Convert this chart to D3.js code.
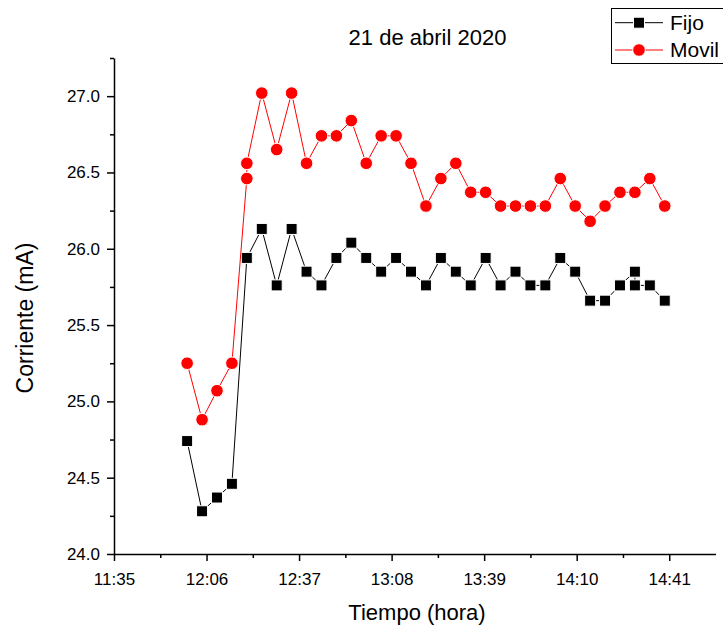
<!DOCTYPE html>
<html>
<head>
<meta charset="utf-8">
<script src="https://cdn.jsdelivr.net/npm/d3@7"></script>
<style>
  body { margin: 0; background: #fff; }
  svg { font-family: "Liberation Sans", Arial, sans-serif; }
</style>
</head>
<body>
<script>
// measurement times (two readings share 12:20 and 14:30)
const times = ["12:00","12:05","12:10","12:15","12:20","12:20","12:25","12:30","12:35","12:40",
  "12:45","12:50","12:55","13:00","13:05","13:10","13:15","13:20","13:25","13:30",
  "13:35","13:40","13:45","13:50","13:55","14:00","14:05","14:10","14:15","14:20",
  "14:25","14:30","14:30","14:35","14:40"];
const fijo = [24.74,24.28,24.37,24.46,25.94,25.94,26.13,25.76,26.13,25.85,
  25.76,25.94,26.04,25.94,25.85,25.94,25.85,25.76,25.94,25.85,
  25.76,25.94,25.76,25.85,25.76,25.76,25.94,25.85,25.66,25.66,
  25.76,25.85,25.76,25.76,25.66];
const movil = [25.25,24.88,25.07,25.25,26.46,26.56,27.02,26.65,27.02,26.56,
  26.74,26.74,26.84,26.56,26.74,26.74,26.56,26.28,26.46,26.56,
  26.37,26.37,26.28,26.28,26.28,26.28,26.46,26.28,26.18,26.28,
  26.37,26.37,26.37,26.46,26.28];
const xTickLabels = ["11:35","12:06","12:37","13:08","13:39","14:10","14:41"];
const yTicks = [24.0,24.5,25.0,25.5,26.0,26.5,27.0];

const toMin = s => { const p = s.split(':'); return +p[0] * 60 + +p[1]; };

const width = 723, height = 630;
const margin = {left: 114, right: 715.5, top: 58, bottom: 554};
const font = 17;

const svg = d3.select('body').append('svg')
    .attr('width', width)
    .attr('height', height);

// scales (axis labels are truncated minutes, ticks sit on the half minute)
const xMajor = xTickLabels.map(s => toMin(s) + 0.5);
const x = d3.scaleLinear()
    .domain([xMajor[0], toMin("14:57")])
    .range([margin.left, margin.right]);
const y = d3.scaleLinear()
    .domain([24, 27.25])
    .range([margin.bottom, margin.top]);

const xMinor = d3.range(xMajor.length - 1).map(i => (xMajor[i] + xMajor[i+1]) / 2);
const yMinor = d3.range(24.25, 27.3, 0.5);

// axes
svg.append('g')
    .attr('transform', 'translate(0,' + margin.bottom + ')')
    .call(d3.axisBottom(x).tickValues(xMajor).tickFormat((d, i) => xTickLabels[i])
        .tickSize(7).tickSizeOuter(0).tickPadding(12));
svg.append('g')
    .attr('transform', 'translate(0,' + margin.bottom + ')')
    .call(d3.axisBottom(x).tickValues(xMinor).tickFormat('').tickSize(4).tickSizeOuter(0))
    .call(g => g.select('.domain').remove());

svg.append('g')
    .attr('transform', 'translate(' + margin.left + ',0)')
    .call(d3.axisLeft(y).tickValues(yTicks).tickFormat(d3.format('.1f'))
        .tickSize(7).tickSizeOuter(0).tickPadding(7));
svg.append('g')
    .attr('transform', 'translate(' + margin.left + ',0)')
    .call(d3.axisLeft(y).tickValues(yMinor).tickFormat('').tickSize(4).tickSizeOuter(0))
    .call(g => g.select('.domain').remove());

svg.selectAll('.domain').attr('stroke-width', 1.5);
svg.selectAll('.tick line').attr('stroke-width', 1.5);
svg.selectAll('.tick text')
    .style('font-size', font + 'px')
    .style('font-family', '"Liberation Sans", Arial, sans-serif')
    .attr('fill', '#000');

// titles
svg.append('text')
    .text('21 de abril 2020')
    .attr('x', 427.5).attr('y', 45)
    .attr('text-anchor', 'middle')
    .style('font-size', '22px');
svg.append('text')
    .text('Tiempo (hora)')
    .attr('x', 417).attr('y', 619.5)
    .attr('text-anchor', 'middle')
    .style('font-size', '22px');
svg.append('text')
    .text('Corriente (mA)')
    .attr('transform', 'translate(33,318) rotate(-90)')
    .attr('text-anchor', 'middle')
    .style('font-size', '23px');

// series
const series = [
    {name: 'Fijo', values: fijo, color: '#000', shape: 'square'},
    {name: 'Movil', values: movil, color: '#f00', shape: 'circle'}
];

const line = d3.line()
    .x(d => x(d[0]))
    .y(d => y(d[1]));

function marker(g, shape, color) {
    if (shape === 'square') {
        g.append('rect')
            .attr('x', -5.5).attr('y', -5.5)
            .attr('width', 11).attr('height', 11)
            .attr('fill', color)
            .attr('stroke', '#fff').attr('stroke-width', 1);
    } else {
        g.append('circle')
            .attr('r', 6.3)
            .attr('fill', color)
            .attr('stroke', '#fff').attr('stroke-width', 1);
    }
}

series.forEach(s => {
    const pts = times.map((t, i) => [toMin(t), s.values[i]]);
    svg.append('path')
        .datum(pts)
        .attr('d', line)
        .attr('fill', 'none')
        .attr('stroke', s.color)
        .attr('stroke-width', 1);
    svg.append('g').selectAll('g')
        .data(pts)
        .enter()
        .append('g')
        .attr('transform', d => 'translate(' + x(d[0]) + ',' + y(d[1]) + ')')
        .each(function() { marker(d3.select(this), s.shape, s.color); });
});

// legend
const legend = svg.append('g');
legend.append('rect')
    .attr('x', 611.5).attr('y', 8.5)
    .attr('width', 130).attr('height', 55)
    .attr('fill', '#fff')
    .attr('stroke', '#000').attr('stroke-width', 1);
series.forEach((s, i) => {
    const ly = 22.7 + i * 27.3;
    legend.append('line')
        .attr('x1', 615).attr('x2', 663)
        .attr('y1', ly).attr('y2', ly)
        .attr('stroke', s.color).attr('stroke-width', 1);
    const m = legend.append('g').attr('transform', 'translate(639,' + ly + ')');
    marker(m, s.shape, s.color);
    legend.append('text')
        .text(s.name)
        .attr('x', 670).attr('y', ly + 7)
        .style('font-size', '21px');
});
</script>
</body>
</html>
